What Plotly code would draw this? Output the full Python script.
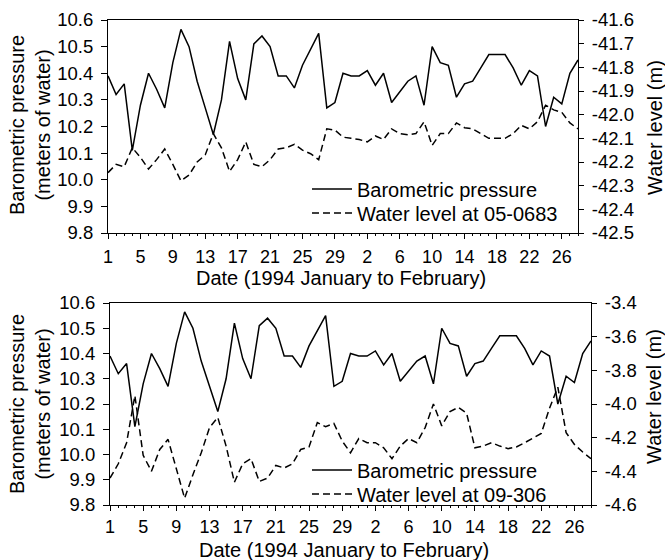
import plotly.graph_objects as go

W, H = 665, 560

days = list(range(1, 60))  # 1 = Jan 1, 59 = Feb 28 (1994)

baro = [10.39, 10.32, 10.36, 10.11, 10.28, 10.40, 10.34, 10.27, 10.44, 10.565,
        10.50, 10.37, 10.27, 10.17, 10.30, 10.52, 10.38, 10.30, 10.51, 10.54,
        10.50, 10.39, 10.39, 10.345, 10.43, 10.49, 10.55, 10.27, 10.29, 10.40,
        10.39, 10.39, 10.41, 10.355, 10.40, 10.29, 10.33, 10.37, 10.39, 10.28,
        10.50, 10.44, 10.43, 10.31, 10.36, 10.37, 10.42, 10.47, 10.47, 10.47,
        10.42, 10.355, 10.41, 10.39, 10.20, 10.31, 10.285, 10.40, 10.45]

wl_050683 = [-42.245, -42.21, -42.22, -42.14, -42.18, -42.23, -42.19, -42.145, -42.21, -42.28,
             -42.255, -42.20, -42.17, -42.08, -42.14, -42.24, -42.19, -42.115, -42.21, -42.22,
             -42.19, -42.145, -42.14, -42.125, -42.15, -42.165, -42.19, -42.06, -42.065, -42.095,
             -42.10, -42.105, -42.115, -42.09, -42.105, -42.06, -42.08, -42.085, -42.08, -42.03,
             -42.13, -42.08, -42.08, -42.035, -42.055, -42.06, -42.08, -42.10, -42.10, -42.10,
             -42.08, -42.045, -42.06, -42.03, -41.96, -41.98, -41.99, -42.035, -42.06]

wl_09306 = [-4.44, -4.355, -4.23, -3.95, -4.305, -4.40, -4.27, -4.21, -4.385, -4.56,
            -4.42, -4.29, -4.14, -4.08, -4.25, -4.465, -4.355, -4.325, -4.46, -4.44,
            -4.365, -4.38, -4.355, -4.27, -4.255, -4.11, -4.135, -4.115, -4.22, -4.29,
            -4.205, -4.23, -4.23, -4.26, -4.325, -4.25, -4.205, -4.23, -4.14, -4.00,
            -4.13, -4.045, -4.02, -4.055, -4.26, -4.25, -4.23, -4.25, -4.265, -4.255,
            -4.23, -4.205, -4.175, -4.025, -3.90, -4.17, -4.24, -4.285, -4.325]

x_tickvals = [1, 5, 9, 13, 17, 21, 25, 29, 33, 37, 41, 45, 49, 53, 57]
x_ticktext = ["1", "5", "9", "13", "17", "21", "25", "29", "2", "6", "10", "14", "18", "22", "26"]

left_ticks = [9.8, 9.9, 10.0, 10.1, 10.2, 10.3, 10.4, 10.5, 10.6]
left_text = ["9.8", "9.9", "10.0", "10.1", "10.2", "10.3", "10.4", "10.5", "10.6"]

top_right_ticks = [-42.5, -42.4, -42.3, -42.2, -42.1, -42.0, -41.9, -41.8, -41.7, -41.6]
top_right_text = ["-42.5", "-42.4", "-42.3", "-42.2", "-42.1", "-42.0", "-41.9", "-41.8", "-41.7", "-41.6"]

bot_right_ticks = [-4.6, -4.4, -4.2, -4.0, -3.8, -3.6, -3.4]
bot_right_text = ["-4.6", "-4.4", "-4.2", "-4.0", "-3.8", "-3.6", "-3.4"]

FONT = "Liberation Sans, Arial, Helvetica, sans-serif"
FS = 18.5
FX = 18
FT = 20

def px_x(p):
    return p / W

def px_y(p):
    return 1 - p / H

fig = go.Figure()

line_solid = dict(color="black", width=1.5)
line_dash = dict(color="black", width=1.5, dash="7px,4px")

fig.add_trace(go.Scatter(x=days, y=baro, mode="lines", line=line_solid,
                         name="Barometric pressure", xaxis="x", yaxis="y", legend="legend"))
fig.add_trace(go.Scatter(x=days, y=wl_050683, mode="lines", line=line_dash,
                         name="Water level at 05-0683", xaxis="x", yaxis="y2", legend="legend2"))
fig.add_trace(go.Scatter(x=days, y=baro, mode="lines", line=line_solid,
                         name="Barometric pressure", xaxis="x2", yaxis="y3", legend="legend3"))
fig.add_trace(go.Scatter(x=days, y=wl_09306, mode="lines", line=line_dash,
                         name="Water level at 09-306", xaxis="x2", yaxis="y4", legend="legend4"))

tickfont = dict(family=FONT, size=FS, color="black")
xtickfont = dict(family=FONT, size=FX, color="black")

def xax(standoff):
    return dict(range=[1, 59], tickvals=x_tickvals, ticktext=x_ticktext,
                showline=True, linecolor="black", linewidth=1.2, mirror=True,
                ticks="outside", ticklen=5, tickcolor="black", tickwidth=1,
                ticklabelstandoff=standoff, automargin=False,
                minor=dict(dtick=1, tick0=1, ticks="outside", ticklen=2, tickcolor="black"),
                showgrid=False, zeroline=False, tickfont=xtickfont)

ycommon_left = dict(range=[9.8, 10.6], tickvals=left_ticks, ticktext=left_text,
                    showline=True, linecolor="black", linewidth=1.2, automargin=False,
                    ticks="outside", ticklen=6, tickcolor="black", ticklabelstandoff=4,
                    showgrid=False, zeroline=False, tickfont=tickfont)

yright_common = dict(showline=True, linecolor="black", linewidth=1.2, side="right",
                     ticks="outside", ticklen=5, tickcolor="black", ticklabelstandoff=4,
                     automargin=False,
                     showgrid=False, zeroline=False, tickfont=tickfont)

legfont = dict(family=FONT, size=FT, color="black")

def leg(ypx):
    return dict(x=px_x(307), y=px_y(ypx), xanchor="left", yanchor="middle",
                bgcolor="rgba(0,0,0,0)", borderwidth=0, itemwidth=40,
                font=legfont, tracegroupgap=0)

fig.update_layout(
    width=W, height=H,
    margin=dict(l=0, r=0, t=0, b=0, pad=0, autoexpand=False),
    paper_bgcolor="white", plot_bgcolor="white",
    font=dict(family=FONT, size=FT, color="black"),
    xaxis=dict(domain=[px_x(108), px_x(578)], anchor="y", **xax(2)),
    yaxis=dict(domain=[px_y(233), px_y(20)], anchor="x", **ycommon_left),
    yaxis2=dict(overlaying="y", anchor="x", range=[-42.5, -41.6],
                tickvals=top_right_ticks, ticktext=top_right_text, **yright_common),
    xaxis2=dict(domain=[px_x(110), px_x(591)], anchor="y3", **xax(0)),
    yaxis3=dict(domain=[px_y(505), px_y(303)], anchor="x2", **ycommon_left),
    yaxis4=dict(overlaying="y3", anchor="x2", range=[-4.6, -3.4],
                tickvals=bot_right_ticks, ticktext=bot_right_text, **yright_common),
    legend=leg(189),
    legend2=leg(213),
    legend3=leg(470),
    legend4=leg(494),
    showlegend=True,
)

ann = []
xt = "Date (1994 January to February)"
ann.append(dict(text=xt, x=px_x(341), y=px_y(278), xref="paper", yref="paper",
                showarrow=False, xanchor="center", yanchor="middle", height=22, valign="middle"))
ann.append(dict(text=xt, x=px_x(344), y=px_y(550), xref="paper", yref="paper",
                showarrow=False, xanchor="center", yanchor="middle", height=20, valign="middle"))
ytl = "Barometric pressure<br>(meters of water)"
ann.append(dict(text=ytl, x=px_x(30), y=px_y(125), xref="paper", yref="paper",
                showarrow=False, textangle=-90, xanchor="center", yanchor="middle"))
ann.append(dict(text=ytl, x=px_x(30), y=px_y(404), xref="paper", yref="paper",
                showarrow=False, textangle=-90, xanchor="center", yanchor="middle"))
ytr = "Water level (m)"
ann.append(dict(text=ytr, x=px_x(655), y=px_y(128), xref="paper", yref="paper",
                showarrow=False, textangle=-90, xanchor="center", yanchor="middle"))
ann.append(dict(text=ytr, x=px_x(654), y=px_y(397), xref="paper", yref="paper",
                showarrow=False, textangle=-90, xanchor="center", yanchor="middle"))
fig.update_layout(annotations=ann)

fig.write_html("out.html")
